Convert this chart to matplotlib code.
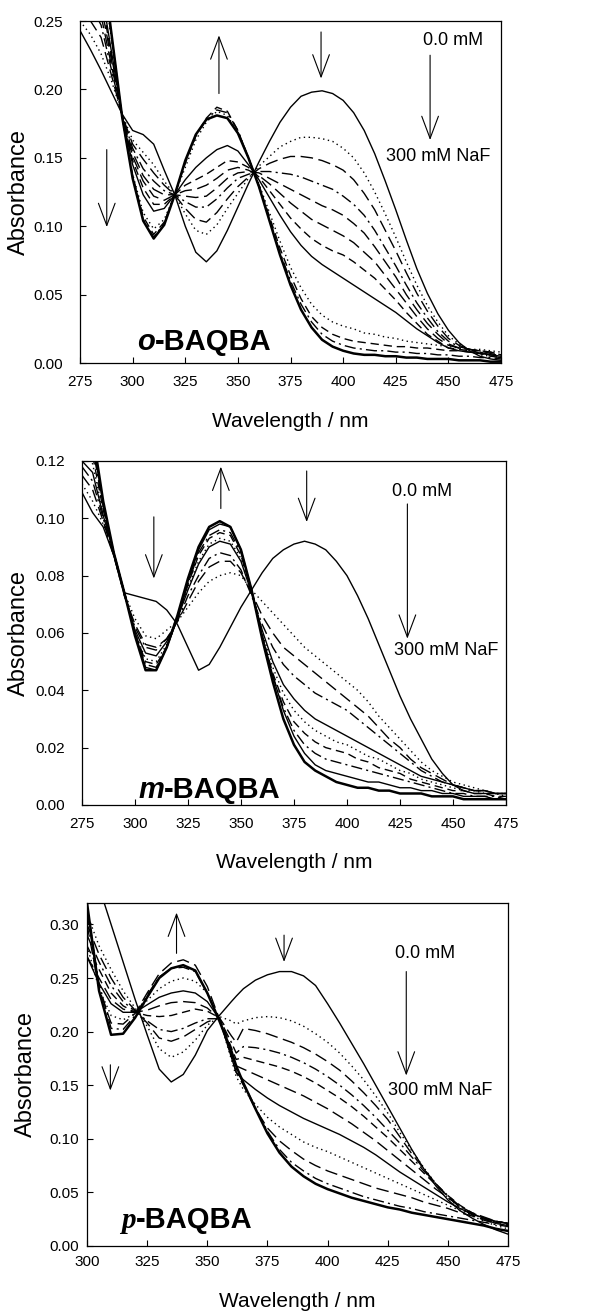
import numpy as np
import matplotlib.pyplot as plt
from matplotlib.ticker import MultipleLocator, FormatStrFormatter

plt.rcParams['font.family'] = ['Liberation Sans', 'DejaVu Sans']

# ---------------- o-BAQBA (top panel) ----------------
o_wl = [275, 280, 285, 290, 295, 300, 305, 310, 315, 320, 325, 330, 335, 340,
        345, 350, 355, 360, 365, 370, 375, 380, 385, 390, 395, 400, 405, 410,
        415, 420, 425, 430, 435, 440, 445, 450, 455, 460, 465, 470, 475]
o_00 = [.243, .229, .214, .198, .182, .170, .167, .160, .141, .123, .100, .081, .074, .082,
        .097, .114, .131, .147, .162, .176, .187, .195, .198, .199, .197, .192, .183, .170,
        .153, .133, .112, .090, .069, .051, .036, .024, .015, .009, .005, .003, .002]
o_01 = [.250, .240, .226, .206, .182, .163, .154, .145, .133, .123, .109, .097, .094, .101,
        .113, .124, .135, .144, .151, .158, .162, .165, .165, .164, .162, .157, .150, .139,
        .125, .109, .092, .074, .057, .042, .030, .020, .014, .010, .006, .005, .004]
o_02 = [.262, .250, .238, .210, .181, .160, .149, .139, .130, .123, .113, .105, .103, .110,
        .120, .129, .136, .142, .146, .149, .151, .151, .150, .148, .145, .141, .134, .124,
        .112, .097, .082, .066, .051, .038, .027, .018, .013, .010, .007, .005, .004]
o_03 = [.275, .262, .247, .214, .181, .157, .142, .133, .126, .123, .118, .114, .114, .120,
        .128, .135, .138, .140, .140, .139, .138, .136, .133, .130, .127, .122, .116, .108,
        .097, .084, .071, .057, .044, .033, .023, .016, .012, .010, .008, .006, .005]
o_04 = [.290, .275, .254, .217, .181, .154, .137, .127, .123, .123, .122, .121, .122, .128,
        .135, .139, .140, .139, .135, .131, .127, .123, .119, .115, .112, .108, .102, .095,
        .085, .074, .063, .050, .039, .029, .021, .014, .011, .010, .009, .007, .005]
o_05 = [.310, .290, .262, .221, .181, .151, .133, .122, .119, .123, .126, .127, .130, .135,
        .141, .143, .141, .137, .131, .124, .117, .111, .105, .101, .097, .093, .088, .081,
        .074, .064, .054, .044, .034, .025, .018, .013, .011, .010, .009, .008, .006]
o_06 = [.330, .305, .268, .224, .181, .148, .128, .116, .116, .123, .130, .134, .138, .143,
        .148, .147, .143, .136, .126, .116, .106, .098, .091, .086, .082, .079, .074, .068,
        .062, .054, .046, .037, .029, .021, .016, .011, .010, .009, .009, .008, .006]
o_07 = [.350, .320, .274, .227, .181, .145, .123, .111, .113, .123, .134, .143, .150, .156,
        .159, .155, .145, .134, .121, .108, .096, .086, .078, .072, .067, .062, .057, .052,
        .047, .042, .037, .031, .025, .020, .015, .011, .009, .008, .007, .006, .005]
o_08 = [.400, .350, .290, .236, .180, .138, .110, .098, .105, .123, .143, .163, .176, .184,
        .181, .168, .150, .131, .110, .089, .070, .055, .043, .035, .030, .027, .025, .022,
        .021, .019, .018, .016, .015, .014, .013, .012, .011, .010, .010, .009, .008]
o_09 = [.420, .360, .295, .238, .180, .137, .107, .094, .103, .123, .146, .166, .179, .187,
        .184, .170, .150, .130, .107, .084, .064, .047, .034, .026, .021, .018, .016, .015,
        .014, .013, .012, .012, .011, .011, .010, .009, .009, .008, .007, .006, .005]
o_10 = [.430, .365, .298, .239, .180, .136, .105, .092, .102, .123, .147, .166, .178, .185,
        .183, .170, .150, .129, .105, .081, .060, .043, .030, .021, .016, .013, .011, .010,
        .009, .009, .008, .008, .007, .007, .006, .006, .005, .005, .004, .004, .003]
o_11 = [.450, .370, .300, .240, .180, .135, .104, .091, .101, .123, .148, .167, .178, .181,
        .179, .168, .150, .129, .104, .079, .057, .039, .026, .017, .012, .009, .007, .006,
        .006, .005, .005, .004, .004, .003, .003, .003, .002, .002, .002, .001, .001]
o_curves = [o_00, o_01, o_02, o_03, o_04, o_05, o_06, o_07, o_08, o_09, o_10, o_11]
o_styles = ['solid', 'dot', 'ldash', 'dashdot', 'ldash', 'ldash', 'dash', 'solid',
            'dot', 'dash', 'dashdot', 'thick']

# ---------------- m-BAQBA (middle panel) ----------------
m_wl = o_wl
m_00 = [.109, .102, .097, .087, .074, .073, .072, .071, .068, .063, .055, .047, .049, .055,
        .062, .069, .075, .081, .086, .089, .091, .092, .091, .089, .085, .080, .073, .065,
        .056, .047, .038, .030, .023, .016, .011, .007, .005, .004, .004, .004, .004]
m_01 = [.112, .106, .098, .087, .074, .065, .059, .058, .061, .064, .069, .074, .078, .080,
        .081, .080, .075, .071, .067, .063, .059, .055, .052, .049, .046, .043, .040, .036,
        .031, .027, .023, .019, .015, .012, .010, .008, .007, .006, .005, .004, .004]
m_02 = [.115, .110, .099, .087, .073, .063, .056, .055, .058, .064, .071, .078, .083, .085,
        .085, .081, .074, .066, .060, .055, .052, .049, .046, .043, .040, .037, .034, .031,
        .027, .023, .020, .016, .013, .011, .009, .007, .006, .005, .005, .004, .004]
m_03 = [.118, .113, .100, .087, .073, .062, .055, .054, .058, .064, .073, .080, .086, .088,
        .087, .082, .073, .063, .055, .049, .045, .042, .039, .037, .035, .033, .030, .027,
        .024, .021, .018, .015, .012, .010, .008, .007, .006, .005, .005, .004, .004]
m_04 = [.120, .116, .101, .088, .074, .061, .053, .052, .057, .065, .075, .084, .090, .092,
        .091, .085, .074, .061, .050, .042, .037, .033, .030, .028, .026, .024, .022, .020,
        .018, .016, .014, .012, .010, .009, .008, .007, .006, .005, .005, .004, .004]
m_05 = [.125, .119, .102, .088, .074, .060, .051, .050, .056, .065, .076, .085, .091, .093,
        .092, .086, .075, .060, .048, .039, .033, .029, .026, .024, .022, .021, .019, .017,
        .016, .014, .012, .011, .009, .008, .007, .006, .005, .005, .004, .004, .003]
m_06 = [.130, .122, .103, .088, .074, .060, .050, .049, .055, .065, .077, .087, .093, .095,
        .094, .087, .075, .059, .046, .036, .029, .025, .022, .020, .019, .018, .016, .015,
        .013, .012, .011, .009, .008, .007, .006, .005, .005, .004, .004, .003, .003]
m_07 = [.135, .125, .104, .088, .074, .060, .049, .048, .055, .065, .077, .088, .094, .096,
        .095, .088, .075, .059, .045, .034, .026, .021, .018, .016, .015, .014, .013, .012,
        .011, .010, .009, .008, .007, .006, .005, .004, .004, .003, .003, .003, .002]
m_08 = [.140, .127, .105, .088, .074, .060, .048, .047, .055, .065, .078, .089, .096, .098,
        .097, .089, .075, .059, .045, .033, .024, .018, .014, .012, .011, .010, .009, .008,
        .008, .007, .006, .006, .005, .005, .004, .004, .003, .003, .003, .002, .002]
m_09 = [.150, .130, .106, .088, .074, .059, .047, .047, .055, .066, .079, .090, .097, .099,
        .097, .089, .075, .058, .043, .030, .021, .015, .012, .010, .008, .007, .006, .006,
        .005, .005, .004, .004, .004, .003, .003, .003, .002, .002, .002, .002, .002]
m_curves = [m_00, m_01, m_02, m_03, m_04, m_05, m_06, m_07, m_08, m_09]
m_styles = ['solid', 'dot', 'ldash', 'dashdot', 'solid', 'dot', 'dash', 'dashdot',
            'solid', 'thick']

# ---------------- p-BAQBA (bottom panel) ----------------
p_wl = [300, 305, 310, 315, 320, 325, 330, 335, 340, 345, 350, 355, 360, 362, 365,
        370, 375, 380, 385, 390, 395, 400, 405, 410, 415, 420, 425, 430, 435, 440,
        445, 450, 455, 460, 465, 470, 475]
p_00 = [.370, .335, .300, .265, .230, .197, .165, .153, .160, .178, .201, .215, .228, .233, .240,
        .248, .253, .256, .256, .252, .243, .226, .208, .189, .170, .150, .130, .110, .090, .072,
        .056, .043, .033, .026, .020, .015, .011]
p_01 = [.310, .280, .258, .238, .222, .205, .184, .176, .181, .192, .206, .214, .210, .207, .210,
        .213, .214, .213, .210, .205, .198, .190, .180, .168, .155, .140, .124, .106, .089, .073,
        .058, .045, .035, .028, .023, .019, .016]
p_02 = [.300, .272, .250, .232, .220, .208, .194, .191, .195, .202, .209, .213, .196, .190, .203,
        .201, .198, .194, .190, .185, .179, .172, .164, .154, .143, .131, .118, .102, .086, .072,
        .058, .046, .036, .029, .024, .021, .019]
p_03 = [.290, .265, .243, .228, .219, .210, .202, .200, .203, .208, .212, .212, .190, .180, .186,
        .185, .183, .180, .176, .171, .165, .158, .150, .141, .131, .120, .108, .096, .083, .070,
        .058, .047, .037, .030, .025, .021, .019]
p_04 = [.280, .258, .236, .224, .218, .215, .214, .215, .218, .221, .219, .213, .185, .174, .176,
        .173, .170, .167, .163, .158, .152, .145, .138, .130, .121, .111, .101, .090, .079, .068,
        .057, .047, .038, .031, .026, .022, .020]
p_05 = [.270, .250, .230, .221, .218, .220, .224, .227, .228, .227, .222, .212, .180, .168, .165,
        .160, .155, .150, .145, .140, .134, .128, .121, .114, .106, .098, .089, .080, .071, .062,
        .053, .045, .037, .031, .027, .023, .021]
p_06 = [.270, .245, .226, .218, .218, .225, .232, .236, .238, .236, .228, .212, .176, .162, .155,
        .146, .138, .131, .125, .119, .114, .109, .104, .098, .092, .085, .077, .069, .062, .055,
        .048, .041, .035, .030, .026, .023, .021]
p_07 = [.280, .240, .215, .211, .217, .229, .240, .247, .250, .247, .236, .212, .174, .158, .146,
        .132, .120, .111, .104, .097, .092, .088, .083, .078, .073, .068, .063, .058, .053, .048,
        .043, .038, .033, .029, .026, .023, .021]
p_08 = [.300, .240, .208, .207, .217, .236, .254, .264, .267, .262, .242, .212, .178, .162, .150,
        .128, .110, .098, .089, .081, .075, .070, .066, .062, .058, .054, .051, .048, .045, .041,
        .038, .035, .031, .028, .025, .023, .021]
p_09 = [.310, .245, .203, .202, .215, .234, .251, .259, .260, .256, .236, .211, .180, .165, .152,
        .129, .107, .090, .078, .070, .063, .058, .054, .050, .046, .043, .040, .037, .035, .032,
        .030, .028, .026, .024, .022, .020, .018]
p_10 = [.320, .238, .197, .198, .213, .232, .250, .259, .262, .257, .236, .210, .182, .168, .152,
        .128, .105, .087, .074, .065, .058, .053, .049, .045, .042, .039, .036, .034, .031, .029,
        .027, .025, .023, .021, .019, .016, .014]
p_curves = [p_00, p_01, p_02, p_03, p_04, p_05, p_06, p_07, p_08, p_09, p_10]
p_styles = ['solid', 'dot', 'ldash', 'dashdot', 'dash', 'ldash', 'solid', 'dot', 'ldash',
            'dashdot', 'thick']

linestyles = {
    'solid': ('-', 1.0),
    'thick': ('-', 1.8),
    'dot': ((0, (1, 2.5)), 1.0),
    'ldash': ((0, (9, 4)), 1.0),
    'dash': ((0, (6, 3.5)), 1.0),
    'dashdot': ((0, (8, 3, 1.5, 3)), 1.0),
}


def arrow(ax, x, y0, y1):
    ax.annotate('', xy=(x, y1), xytext=(x, y0),
                arrowprops=dict(arrowstyle='->, head_length=0.8, head_width=0.3',
                                lw=0.8, color='black', shrinkA=0, shrinkB=0,
                                mutation_scale=20))


def panel(rect, wl, curves, styles, xlim, ylim, ystep, ypad, xpad, ylab_x, xlab_y):
    ax = fig.add_axes(rect)
    for y, s in zip(curves, styles):
        ls, lw = linestyles[s]
        ax.plot(wl, y, color='black', ls=ls, lw=lw)
    ax.set_xlim(*xlim)
    ax.set_ylim(*ylim)
    ax.xaxis.set_major_locator(MultipleLocator(25))
    ax.yaxis.set_major_locator(MultipleLocator(ystep))
    ax.yaxis.set_major_formatter(FormatStrFormatter('%.2f'))
    ax.tick_params(direction='in', length=4, width=0.8, labelsize=11,
                   top=False, right=False)
    ax.tick_params(axis='y', pad=ypad)
    ax.tick_params(axis='x', pad=xpad)
    for sp in ax.spines.values():
        sp.set_linewidth(0.9)
    ax.set_ylabel('Absorbance', fontsize=17)
    ax.set_xlabel('Wavelength / nm', fontsize=15, va='top')
    ax.yaxis.set_label_coords(ylab_x, 0.5)
    ax.xaxis.set_label_coords(0.5, xlab_y)
    return ax


def compound_label(ax, x, y, first, rest, serif=False):
    fam = ['Liberation Serif'] if serif else ['Liberation Sans']
    t = ax.text(x, y, first, fontsize=21, fontweight='bold', style='italic',
                family=fam, ha='left', va='bottom')
    ax.annotate(rest, xy=(1, 0), xycoords=t, fontsize=21, fontweight='bold',
                ha='left', va='bottom')


fig = plt.figure(figsize=(6.09, 13.14), dpi=100)

# top
ax1 = panel([0.1314, 0.7237, 0.6913, 0.2603], o_wl, o_curves, o_styles,
            (275, 475), (0, 0.25), 0.05, 12, 8.5, -0.118, -0.143)
arrow(ax1, 341, 0.197, 0.2395)
arrow(ax1, 389.5, 0.242, 0.208)
arrow(ax1, 287.7, 0.156, 0.0994)
arrow(ax1, 441.3, 0.225, 0.163)
ax1.text(452, 0.236, '0.0 mM', fontsize=13, ha='center', va='center')
ax1.text(445, 0.151, '300 mM NaF', fontsize=13, ha='center', va='center')
compound_label(ax1, 302, 0.005, 'o', '-BAQBA')

# middle
ax2 = panel([0.1346, 0.3874, 0.6962, 0.2618], m_wl, m_curves, m_styles,
            (275, 475), (0, 0.12), 0.02, 12.5, 8.5, -0.122, -0.1395)
arrow(ax2, 308.9, 0.1005, 0.079)
arrow(ax2, 340.5, 0.1034, 0.118)
arrow(ax2, 381, 0.1165, 0.0987)
arrow(ax2, 428.5, 0.105, 0.058)
ax2.text(435.3, 0.1092, '0.0 mM', fontsize=13, ha='center', va='center')
ax2.text(447, 0.054, '300 mM NaF', fontsize=13, ha='center', va='center')
compound_label(ax2, 301.5, 0.0005, 'm', '-BAQBA')

# bottom
ax3 = panel([0.1429, 0.0518, 0.6913, 0.2610], p_wl, p_curves, p_styles,
            (300, 475), (0, 0.32), 0.05, 6, 6.5, -0.118, -0.134)
arrow(ax3, 337.2, 0.273, 0.311)
arrow(ax3, 381.9, 0.290, 0.265)
arrow(ax3, 309.7, 0.169, 0.145)
arrow(ax3, 432.7, 0.256, 0.159)
ax3.text(440.6, 0.273, '0.0 mM', fontsize=13, ha='center', va='center')
ax3.text(446.8, 0.145, '300 mM NaF', fontsize=13, ha='center', va='center')
compound_label(ax3, 314.3, 0.011, 'p', '-BAQBA', serif=True)

fig.savefig('out.png', dpi=100)
